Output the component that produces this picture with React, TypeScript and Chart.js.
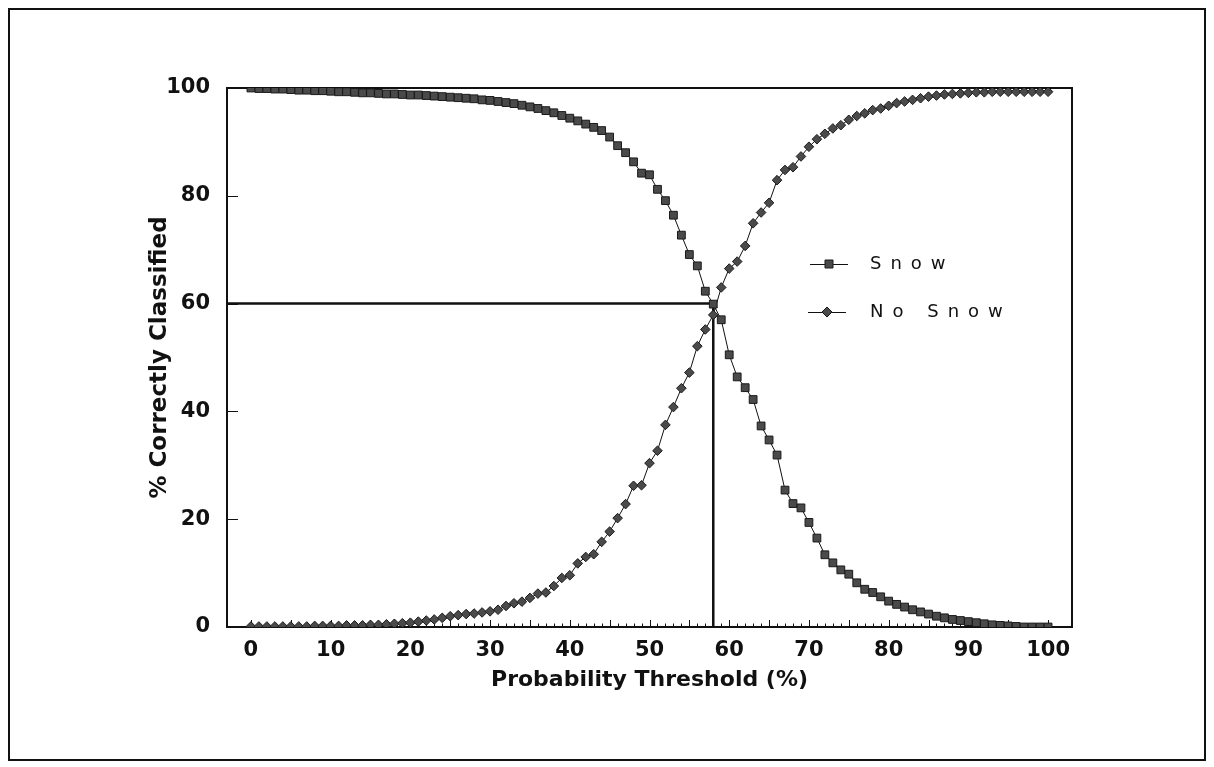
import React, { useEffect, useRef } from 'react';
import { Chart, registerables } from 'chart.js';

Chart.register(...registerables);

const thresholds = [
  0, 1, 2, 3, 4, 5, 6, 7, 8, 9, 10, 11, 12, 13, 14, 15, 16, 17, 18, 19, 20,
  21, 22, 23, 24, 25, 26, 27, 28, 29, 30, 31, 32, 33, 34, 35, 36, 37, 38, 39, 40,
  41, 42, 43, 44, 45, 46, 47, 48, 49, 50, 51, 52, 53, 54, 55, 56, 57, 58, 59, 60,
  61, 62, 63, 64, 65, 66, 67, 68, 69, 70, 71, 72, 73, 74, 75, 76, 77, 78, 79, 80,
  81, 82, 83, 84, 85, 86, 87, 88, 89, 90, 91, 92, 93, 94, 95, 96, 97, 98, 99, 100,
];

const snowPct = [
  100, 99.9, 99.9, 99.8, 99.8, 99.7, 99.6, 99.6, 99.5, 99.5, 99.4,
  99.3, 99.3, 99.2, 99.1, 99.1, 99.0, 98.9, 98.9, 98.8, 98.7,
  98.7, 98.6, 98.5, 98.4, 98.3, 98.2, 98.1, 98.0, 97.8, 97.7,
  97.5, 97.3, 97.1, 96.8, 96.5, 96.2, 95.8, 95.4, 94.9, 94.4,
  93.9, 93.3, 92.7, 92.1, 90.9, 89.3, 88.0, 86.3, 84.2, 83.9,
  81.2, 79.1, 76.4, 72.7, 69.1, 67.0, 62.3, 59.9, 57.0, 50.5,
  46.4, 44.4, 42.2, 37.3, 34.7, 31.9, 25.4, 22.9, 22.1, 19.4,
  16.5, 13.4, 11.9, 10.6, 9.8, 8.2, 7.0, 6.4, 5.6, 4.8,
  4.2, 3.7, 3.2, 2.8, 2.4, 2.0, 1.7, 1.4, 1.2, 1.0,
  0.8, 0.6, 0.4, 0.3, 0.2, 0.1, 0, 0, 0, 0,
];

const noSnowPct = [
  0.1, 0.1, 0.1, 0.1, 0.1, 0.1, 0.1, 0.1, 0.2, 0.2, 0.2,
  0.2, 0.3, 0.3, 0.3, 0.4, 0.4, 0.5, 0.6, 0.7, 0.8,
  1.0, 1.2, 1.4, 1.7, 2.0, 2.2, 2.4, 2.5, 2.7, 2.9,
  3.2, 3.9, 4.4, 4.7, 5.4, 6.2, 6.4, 7.6, 9.1, 9.6,
  11.8, 13.0, 13.5, 15.8, 17.7, 20.2, 22.8, 26.2, 26.3, 30.4,
  32.7, 37.5, 40.8, 44.3, 47.2, 52.1, 55.2, 57.9, 63.0, 66.5,
  67.8, 70.7, 74.9, 76.9, 78.7, 82.9, 84.8, 85.3, 87.3, 89.1,
  90.5, 91.5, 92.5, 93.1, 94.1, 94.8, 95.3, 95.9, 96.2, 96.7,
  97.2, 97.5, 97.8, 98.1, 98.4, 98.6, 98.8, 98.9, 99.0, 99.1,
  99.2, 99.2, 99.3, 99.3, 99.3, 99.3, 99.3, 99.3, 99.3, 99.3,
];

const refLineX = [-3, 58, 58];
const refLineY = [60, 60, 0];

const xTickLabels = [0, 10, 20, 30, 40, 50, 60, 70, 80, 90, 100];
const yTickLabels = [0, 20, 40, 60, 80, 100];

const seriesNames = ['Snow', 'No Snow'];
const xTitle = 'Probability Threshold (%)';
const yTitle = '% Correctly Classified';

const INK = '#111111';
const MARK_FILL = '#4a4a4a';
const FONT = "'DejaVu Sans', 'Liberation Sans', Arial, sans-serif";

const decorPlugin = {
  id: 'decor',
  beforeDatasetsDraw(chart: any) {
    const { ctx, chartArea: ca, scales } = chart;
    const xs = scales.x;
    const ys = scales.y;
    ctx.save();
    ctx.strokeStyle = INK;
    ctx.lineWidth = 1;
    for (let v = 0; v <= 100; v += 1) {
      const px = Math.round(xs.getPixelForValue(v)) + 0.5;
      const len = v % 5 === 0 ? 7 : 3.5;
      ctx.beginPath();
      ctx.moveTo(px, ca.bottom);
      ctx.lineTo(px, ca.bottom - len);
      ctx.stroke();
    }
    for (const v of yTickLabels) {
      const py = Math.round(ys.getPixelForValue(v)) + 0.5;
      ctx.beginPath();
      ctx.moveTo(ca.left, py);
      ctx.lineTo(ca.left + 11, py);
      ctx.stroke();
    }
    ctx.lineWidth = 2;
    ctx.strokeRect(ca.left, ca.top, ca.right - ca.left, ca.bottom - ca.top);
    ctx.restore();
  },
  afterDraw(chart: any) {
    const { ctx } = chart;
    ctx.save();
    ctx.strokeStyle = INK;
    ctx.lineWidth = 2;
    ctx.strokeRect(1, 1, chart.width - 2, chart.height - 2);

    const items = [
      { name: seriesNames[0], y: 256, x0: 802, x1: 840, style: 'rect' },
      { name: seriesNames[1], y: 304, x0: 800, x1: 838, style: 'diamond' },
    ];
    for (const it of items) {
      ctx.strokeStyle = INK;
      ctx.lineWidth = 1;
      ctx.beginPath();
      ctx.moveTo(it.x0, it.y + 0.5);
      ctx.lineTo(it.x1, it.y + 0.5);
      ctx.stroke();
      const cx = (it.x0 + it.x1) / 2;
      ctx.fillStyle = MARK_FILL;
      ctx.strokeStyle = '#1a1a1a';
      ctx.beginPath();
      if (it.style === 'rect') {
        ctx.rect(cx - 4, it.y - 4, 8, 8);
      } else {
        ctx.moveTo(cx, it.y - 5);
        ctx.lineTo(cx + 5, it.y);
        ctx.lineTo(cx, it.y + 5);
        ctx.lineTo(cx - 5, it.y);
        ctx.closePath();
      }
      ctx.fill();
      ctx.stroke();
      ctx.fillStyle = INK;
      ctx.font = `500 18px ${FONT}`;
      (ctx as any).letterSpacing = '9px';
      ctx.textAlign = 'left';
      ctx.textBaseline = 'middle';
      ctx.fillText(it.name, 862, it.y);
      (ctx as any).letterSpacing = '0px';
    }
    ctx.restore();
  },
};

export default function App() {
  const canvasRef = useRef<HTMLCanvasElement | null>(null);

  useEffect(() => {
    if (!canvasRef.current) return;
    const snowData = thresholds.map((t, i) => ({ x: t, y: snowPct[i] }));
    const noSnowData = thresholds.map((t, i) => ({ x: t, y: noSnowPct[i] }));
    const refData = refLineX.map((x, i) => ({ x, y: refLineY[i] }));

    const tickFont = { family: FONT, size: 21, weight: 'bold' as const };
    const titleFont = { family: FONT, size: 22, weight: 'bold' as const };
    const yTitleFont = { family: FONT, size: 23, weight: 'bold' as const };

    const chart = new Chart(canvasRef.current, {
      type: 'line',
      data: {
        datasets: [
          {
            label: seriesNames[0],
            data: snowData,
            borderColor: INK,
            borderWidth: 1,
            pointStyle: 'rect',
            pointRadius: 5.5,
            pointBackgroundColor: MARK_FILL,
            pointBorderColor: '#1a1a1a',
            pointBorderWidth: 1,
            tension: 0,
          },
          {
            label: seriesNames[1],
            data: noSnowData,
            borderColor: INK,
            borderWidth: 1,
            pointStyle: 'rectRot',
            pointRadius: 4.8,
            pointBackgroundColor: MARK_FILL,
            pointBorderColor: '#1a1a1a',
            pointBorderWidth: 1,
            tension: 0,
          },
          {
            label: 'threshold',
            data: refData,
            borderColor: INK,
            borderWidth: 2.5,
            pointRadius: 0,
            tension: 0,
          },
        ],
      },
      options: {
        responsive: false,
        animation: false,
        devicePixelRatio: 1,
        layout: { padding: { left: 138, right: 134, top: 80, bottom: 68 } },
        plugins: {
          legend: { display: false },
          tooltip: { enabled: false },
        },
        scales: {
          x: {
            type: 'linear',
            min: -3,
            max: 103,
            afterBuildTicks: (s: any) => {
              s.ticks = xTickLabels.map((v) => ({ value: v }));
            },
            afterFit: (s: any) => {
              s.height = 66;
            },
            grid: { display: false, drawTicks: false },
            border: { display: false },
            ticks: {
              color: INK,
              font: tickFont,
              padding: 11,
              maxRotation: 0,
              autoSkip: false,
            },
            title: {
              display: true,
              text: xTitle,
              color: INK,
              font: titleFont,
              padding: 0,
            },
          },
          y: {
            type: 'linear',
            min: 0,
            max: 100,
            afterBuildTicks: (s: any) => {
              s.ticks = yTickLabels.map((v) => ({ value: v }));
            },
            afterFit: (s: any) => {
              s.width = 81;
            },
            grid: { display: false, drawTicks: false },
            border: { display: false },
            ticks: {
              color: INK,
              font: tickFont,
              padding: 17,
              autoSkip: false,
            },
            title: {
              display: true,
              text: yTitle,
              color: INK,
              font: yTitleFont,
              padding: 0,
            },
          },
        },
      },
      plugins: [decorPlugin],
    });
    return () => chart.destroy();
  }, []);

  return (
    <div style={{ position: 'relative', width: 1198, height: 753 }}>
      <canvas
        ref={canvasRef}
        width={1198}
        height={753}
        style={{ display: 'block', width: 1198, height: 753 }}
      />
    </div>
  );
}
